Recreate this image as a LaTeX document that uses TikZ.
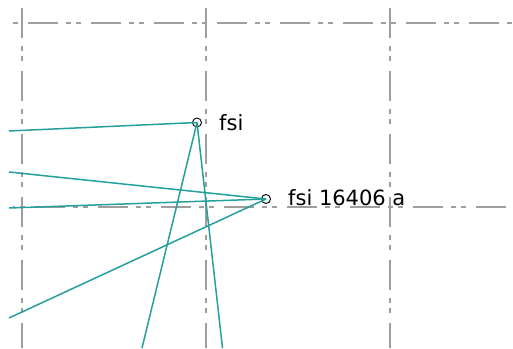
\documentclass[tikz,border=0pt]{standalone}
\usepackage{fontspec}
\setmainfont{DejaVu Sans}
\definecolor{gridgray}{RGB}{158,158,158}
\definecolor{linkteal}{RGB}{36,160,156}
\begin{document}
\begin{tikzpicture}[x=1pt,y=-1pt,
  gridline/.style={draw=gridgray,line width=1.7pt,
    dash pattern=on 30pt off 8pt on 5pt off 5pt on 5pt off 10pt},
  link/.style={draw=linkteal,line width=1.5pt},
  site/.style={circle,draw=black,line width=0.9pt,inner sep=0pt,minimum size=9pt},
  tag/.style={anchor=base west,inner sep=0pt,font=\fontsize{21}{24}\selectfont}]
\useasboundingbox (0,0) rectangle (513,348);

% dash-dot reference grid
\draw[gridline,dash phase=48pt] (13,23) -- (513,23);
\draw[gridline,dash phase=41pt] (13,207) -- (513,207);
\foreach \gx in {22,206,390}
  \draw[gridline] (\gx,8) -- (\gx,348);

% stations
\node[site] (fsi) at (197,122.5) {};
\node[site] (fsia) at (266,199) {};
\node[tag] (fsilbl) at (219,130) {fsi};
\node[tag] (fsialbl) at (288,205) {fsi 16406 a};

% open ends at the picture border
\coordinate (w1) at (9,131);
\coordinate (w2) at (9,172);
\coordinate (w3) at (9,208);
\coordinate (w4) at (9,318);
\coordinate (s1) at (142,348);
\coordinate (s2) at (222.5,348);

% links
\draw[link] (w1) -- (fsi.center);
\draw[link] (w2) -- (fsia.center);
\draw[link] (w3) -- (fsia.center);
\draw[link] (w4) -- (fsia.center);
\draw[link] (fsi.center) -- (s1);
\draw[link] (fsi.center) -- (s2);
\end{tikzpicture}
\end{document}
